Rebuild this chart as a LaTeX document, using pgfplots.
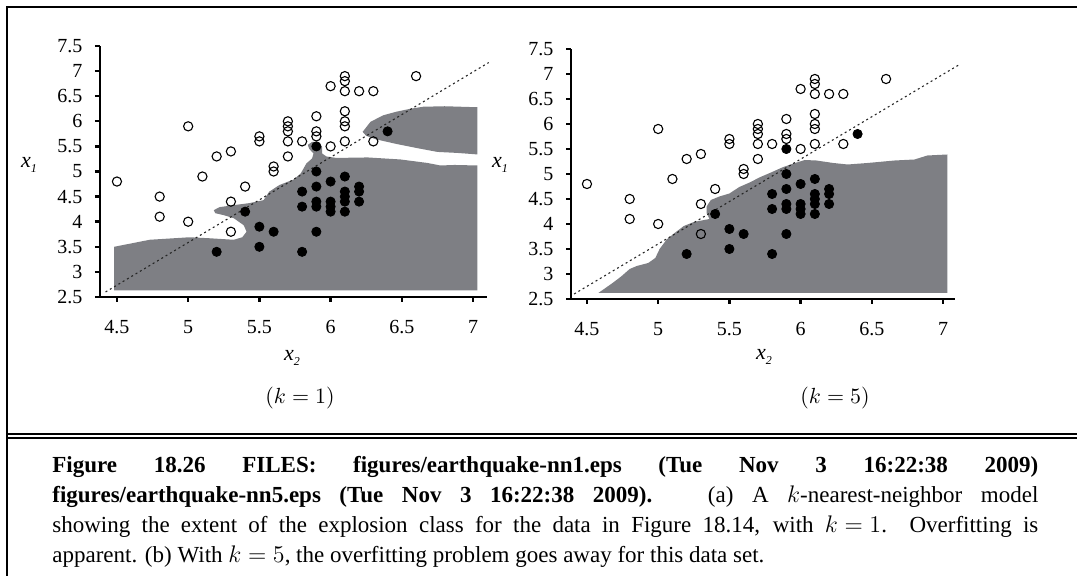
\documentclass[border=0pt]{standalone}
\usepackage[no-math]{fontspec}
\setmainfont{Liberation Serif}
\usepackage{pgfplots}
\pgfplotsset{compat=1.18}
\usepackage{pgfplotstable}
\definecolor{regiongray}{RGB}{126,127,132}

\pgfplotstableread{
x y
4.5 4.8
4.8 4.5
4.8 4.1
5.0 5.9
5.0 4.0
5.1 4.9
5.2 5.3
5.3 5.4
5.3 4.4
5.3 3.8
5.4 4.7
5.5 5.7
5.5 5.6
5.6 5.1
5.6 5.0
5.7 6.0
5.7 5.9
5.7 5.8
5.7 5.6
5.7 5.3
5.8 5.6
5.9 6.1
5.9 5.8
5.9 5.7
6.0 6.7
6.0 5.5
6.1 6.9
6.1 6.8
6.1 6.6
6.1 6.2
6.1 6.0
6.1 5.9
6.1 5.6
6.2 6.6
6.3 6.6
6.3 5.6
6.6 6.9
}\openpts

\pgfplotstableread{
x y
6.4 5.8
5.9 5.5
5.9 5.0
6.0 4.8
6.1 4.9
5.8 4.6
5.9 4.7
6.1 4.6
6.1 4.5
6.1 4.4
6.2 4.7
6.2 4.6
6.2 4.4
5.9 4.4
5.9 4.3
5.8 4.3
6.0 4.4
6.0 4.3
6.0 4.2
6.1 4.2
5.4 4.2
5.5 3.9
5.6 3.8
5.9 3.8
5.5 3.5
5.2 3.4
5.8 3.4
}\filledpts

\pgfplotsset{knn/.style={
  scale only axis,
  ymin=2.5, ymax=7.5,
  axis lines*=left,
  axis line style={line width=1.4pt, black},
  xtick={4.5,5,5.5,6,6.5,7},
  xticklabels={4.5,5,5.5,6,6.5,7},
  ytick={2.5,3,3.5,4,4.5,5,5.5,6,6.5,7,7.5},
  yticklabels={2.5,3,3.5,4,4.5,5,5.5,6,6.5,7,7.5},
  tick align=outside,
  major tick length=2.5pt,
  tick style={black, line width=1.2pt},
  ticklabel style={font=\fontsize{10}{11}\selectfont},
  xticklabel style={yshift=-5.5pt},
  yticklabel style={xshift=-2.75pt},
  clip=false,
}}
\pgfplotsset{
  openmk/.style={only marks, mark=o, mark size=2.3pt, mark options={black, line width=0.55pt}},
  fillmk/.style={only marks, mark=*, mark size=2.3pt, mark options={black, fill=black}},
  diag/.style={black!85, line width=0.55pt, dash pattern=on 1pt off 1.5pt},
}

\newcommand{\xlab}[1]{{\fontsize{11}{12}\selectfont\textit{x}\raisebox{-0.5ex}{\fontsize{6}{6}\selectfont\textit{#1}}}}

\begin{document}
\begin{tikzpicture}
\path[use as bounding box] (0,0) rectangle (538.5pt,-288pt);

% ---------- left panel (k = 1)
\begin{axis}[knn, at={(50pt,-148.5pt)}, anchor=south west,
  width=193.5pt, height=125.5pt, xmin=4.381, xmax=7.098]
\addplot[fill=regiongray, draw=none] coordinates {
(4.48,2.63) (4.48,3.50) (4.73,3.64) (5.01,3.69) (5.15,3.67) (5.32,3.64)
(5.38,3.69) (5.41,3.80) (5.39,3.93) (5.32,4.07) (5.25,4.13) (5.19,4.17)
(5.18,4.23) (5.22,4.29) (5.32,4.33) (5.43,4.37) (5.53,4.43) (5.57,4.60)
(5.64,4.73) (5.74,4.84) (5.79,4.96) (5.83,5.16) (5.87,5.26) (5.88,5.36)
(5.85,5.45) (5.84,5.53) (5.87,5.59) (5.91,5.59) (5.94,5.49) (5.94,5.36)
(5.97,5.30) (6.04,5.27) (6.26,5.28) (6.49,5.24) (6.68,5.17) (6.77,5.12)
(6.87,5.13) (7.03,5.12) (7.03,2.63)} -- cycle;
\addplot[fill=regiongray, draw=none] coordinates {
(6.225,5.79) (6.28,5.99) (6.37,6.12) (6.46,6.19) (6.56,6.25) (6.65,6.29)
(6.80,6.30) (7.03,6.28) (7.03,5.34) (6.89,5.37) (6.75,5.39) (6.60,5.47)
(6.46,5.55) (6.32,5.64) (6.25,5.71)} -- cycle;
\addplot[diag] coordinates {(4.42,2.60) (7.11,7.17)};
\addplot[openmk] table[x=x,y=y] {\openpts};
\addplot[fillmk] table[x=x,y=y] {\filledpts};
\end{axis}

% ---------- right panel (k = 5)
\begin{axis}[knn, at={(285.5pt,-149.5pt)}, anchor=south west,
  width=192pt, height=125pt, xmin=4.388, xmax=7.084]
\addplot[fill=regiongray, draw=none] coordinates {
(4.58,2.62) (4.68,2.82) (4.74,2.95) (4.80,3.10) (4.85,3.16) (4.93,3.22)
(4.98,3.32) (5.01,3.50) (5.06,3.69) (5.12,3.83) (5.18,3.96) (5.25,4.04)
(5.36,4.10) (5.34,4.22) (5.34,4.35) (5.37,4.48) (5.43,4.55) (5.50,4.61)
(5.57,4.74) (5.65,4.84) (5.71,4.93) (5.80,5.04) (5.87,5.13) (5.95,5.21)
(6.03,5.28) (6.11,5.27) (6.23,5.22) (6.33,5.19) (6.47,5.22) (6.66,5.27)
(6.80,5.29) (6.89,5.37) (7.03,5.39) (7.03,2.62)} -- cycle;
\addplot[diag] coordinates {(4.41,2.60) (7.11,7.18)};
\addplot[openmk] table[x=x,y=y] {\openpts};
\addplot[fillmk] table[x=x,y=y] {\filledpts};
\end{axis}

% axis labels and sub-captions
\node at (14.5pt,-82.5pt) {\xlab{1}};
\node at (250pt,-82.5pt) {\xlab{1}};
\node at (146pt,-179pt) {\xlab{2}};
\node at (382pt,-178.5pt) {\xlab{2}};
\node[font=\fontsize{10.5}{12}\selectfont] at (150pt,-199pt) {$(k=1)$};
\node[font=\fontsize{10.5}{12}\selectfont] at (417.5pt,-199pt) {$(k=5)$};

% frame
\draw[line width=1.4pt] (3.5pt,-288pt) -- (3.5pt,-3.5pt) -- (538.5pt,-3.5pt);
\draw[line width=1.3pt] (3.5pt,-217pt) -- (538.5pt,-217pt);
\draw[line width=1.3pt] (3.5pt,-219pt) -- (538.5pt,-219pt);

% caption
\node[anchor=base west, inner sep=0pt, text width=493pt, align=justify,
  font=\fontsize{11.5}{15}\selectfont] at (26pt,-236.5pt) {\hyphenpenalty=10000\tolerance=10000
\thickmuskip=5mu\medmuskip=4mu
\textbf{Figure 18.26 FILES: figures/earthquake-nn1.eps (Tue Nov 3 16:22:38 2009)}\linebreak
\textbf{figures/earthquake-nn5.eps (Tue Nov 3 16:22:38 2009).}\ \ \ (a) A $k$-nearest-neighbor model\linebreak
showing the extent of the explosion class for the data in Figure 18.14, with $k=1$.\ \ Overfitting is\linebreak
apparent. (b) With $k=5$, the overfitting problem goes away for this data set.};
\end{tikzpicture}
\end{document}
